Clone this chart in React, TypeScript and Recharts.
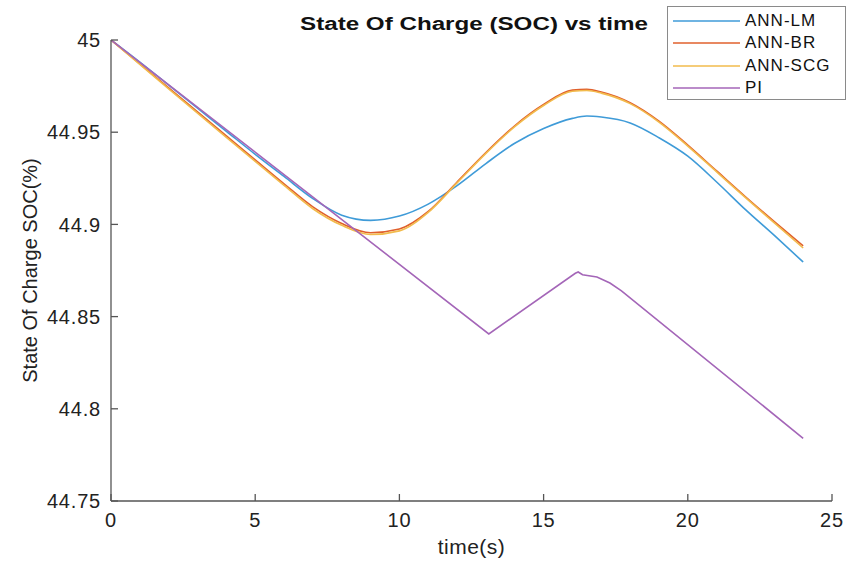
import React from 'react';
import { LineChart, Line, XAxis, YAxis, Label } from 'recharts';

// ANN controllers share the same time base
const timeAnn = [0, 1, 2, 3, 4, 5, 6, 7, 8, 9, 10, 11, 12, 13, 14, 15, 16, 16.5, 17, 18, 19, 20, 21, 22, 23, 24];
const socLM = [45, 44.988, 44.9755, 44.963, 44.9505, 44.938, 44.926, 44.914, 44.905, 44.9022, 44.9045, 44.911, 44.921, 44.933, 44.944, 44.952, 44.9575, 44.9588, 44.9582, 44.955, 44.947, 44.937, 44.923, 44.908, 44.894, 44.8796];
const socBR = [45, 44.987, 44.974, 44.961, 44.948, 44.935, 44.922, 44.9095, 44.9005, 44.8955, 44.8975, 44.907, 44.923, 44.939, 44.9535, 44.965, 44.9728, 44.9732, 44.9718, 44.966, 44.956, 44.943, 44.929, 44.915, 44.9015, 44.8883];
const socSCG = [45, 44.9868, 44.9735, 44.9603, 44.9472, 44.9342, 44.9212, 44.9085, 44.8995, 44.8945, 44.8965, 44.9065, 44.9225, 44.9385, 44.953, 44.9645, 44.9722, 44.9726, 44.9712, 44.9655, 44.9555, 44.9425, 44.9285, 44.9145, 44.9008, 44.8872];

// PI controller
const timePI = [0, 13.1, 16.1, 16.2, 16.35, 16.85, 17.3, 17.7, 24];
const socPI = [45, 44.8406, 44.8735, 44.8742, 44.8727, 44.8715, 44.8682, 44.864, 44.784];

const xTicks = [0, 5, 10, 15, 20, 25];
const yTicks = [44.75, 44.8, 44.85, 44.9, 44.95, 45];

const seriesNames = ['ANN-LM', 'ANN-BR', 'ANN-SCG', 'PI'];
const seriesColors = ['#3f9bd8', '#e0602c', '#f2bb4c', '#a466b8'];

const annData = timeAnn.map((t, i) => ({ time: t, lm: socLM[i], br: socBR[i], scg: socSCG[i] }));
const piData = timePI.map((t, i) => ({ time: t, pi: socPI[i] }));

const axisColor = '#555';
const font = '"Liberation Sans", Arial, Helvetica, sans-serif';
const tickStyle = { fill: '#222', fontSize: 20, fontFamily: font, letterSpacing: 0.8 };

const App: React.FC = () => {
  return (
    <div style={{ position: 'absolute', left: 0, top: 0, width: 853, height: 561, background: '#fff', fontFamily: font }}>
      <LineChart
        width={853}
        height={561}
        data={annData}
        margin={{ top: 40, right: 21, left: 51, bottom: 30 }}
      >
        <XAxis
          dataKey="time"
          type="number"
          domain={[0, 25]}
          ticks={xTicks}
          allowDataOverflow
          height={30}
          stroke={axisColor}
          strokeWidth={1.3}
          tickSize={-7}
          tickMargin={19}
          tick={tickStyle}
          tickLine={{ stroke: axisColor }}
        >
          <Label value="time(s)" position="center" dy={31} style={{ fill: '#222', fontSize: 21, fontFamily: font, letterSpacing: 0.5 }} />
        </XAxis>
        <YAxis
          type="number"
          domain={[44.75, 45]}
          ticks={yTicks}
          allowDataOverflow
          width={60}
          stroke={axisColor}
          strokeWidth={1.3}
          tickSize={-7}
          tickMargin={17}
          tick={tickStyle}
          tickLine={{ stroke: axisColor }}
          tickFormatter={(v) => String(v)}
        >
          <Label value="State Of Charge SOC(%)" angle={-90} position="center" dx={-51} style={{ fill: '#222', fontSize: 20, fontFamily: font, textAnchor: 'middle' }} />
        </YAxis>
        <Line type="monotone" dataKey="lm" stroke={seriesColors[0]} strokeWidth={1.6} dot={false} isAnimationActive={false} />
        <Line type="monotone" dataKey="br" stroke={seriesColors[1]} strokeWidth={1.6} dot={false} isAnimationActive={false} />
        <Line type="monotone" dataKey="scg" stroke={seriesColors[2]} strokeWidth={1.6} dot={false} isAnimationActive={false} />
        <Line type="linear" data={piData} dataKey="pi" stroke={seriesColors[3]} strokeWidth={1.6} dot={false} isAnimationActive={false} />
      </LineChart>

      {/* title */}
      <svg width={853} height={45} style={{ position: 'absolute', left: 0, top: 0 }}>
        <text x={474} y={30} textAnchor="middle" fontWeight="bold" fontSize={18} fontFamily={font} fill="#111" textLength={348} lengthAdjust="spacingAndGlyphs">
          State Of Charge (SOC) vs time
        </text>
      </svg>

      {/* legend */}
      <div
        style={{
          position: 'absolute',
          left: 667,
          top: 6,
          width: 177,
          height: 92,
          border: '1px solid #8a8a8a',
          background: '#fff',
        }}
      >
        {seriesNames.map((name, i) => (
          <div key={name} style={{ position: 'absolute', left: 0, top: 3 + i * 22.3, height: 22, width: 177, display: 'flex', alignItems: 'center' }}>
            <svg width={80} height={22} style={{ display: 'block' }}>
              <line x1={5} x2={72} y1={11} y2={11} stroke={seriesColors[i]} strokeWidth={1.6} />
            </svg>
            <span style={{ marginLeft: -3, fontSize: 17, letterSpacing: 1, color: '#111' }}>{name}</span>
          </div>
        ))}
      </div>
    </div>
  );
};

export default App;
